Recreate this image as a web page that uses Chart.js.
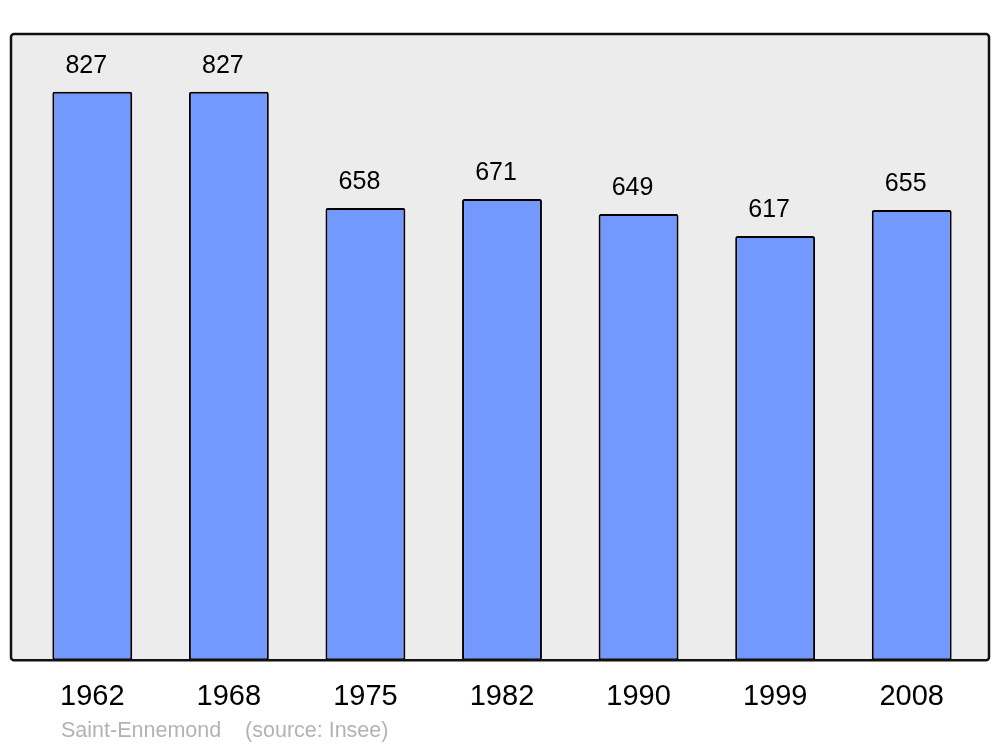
<!DOCTYPE html>
<html lang="fr">
<head>
  <meta charset="UTF-8">
  <title>Saint-Ennemond population</title>
  <script src="https://cdn.jsdelivr.net/npm/chart.js"></script>
  <style>
    html, body {
      margin: 0;
      padding: 0;
      background: #fff;
    }
    canvas {
      display: block;
    }
  </style>
</head>
<body>
  <canvas id="popChart" width="1000" height="747"></canvas>
  <script>
    // Data
    const years = ['1962', '1968', '1975', '1982', '1990', '1999', '2008'];
    const population = [827, 827, 658, 671, 649, 617, 655];
    const sourceText = 'Saint-Ennemond    (source: Insee)';

    const FONT = '"Liberation Sans", Arial, sans-serif';

    // Grey framed background behind the bars
    const framePlugin = {
      id: 'frame',
      beforeDatasetsDraw(chart) {
        const { ctx, chartArea } = chart;
        ctx.save();
        ctx.beginPath();
        ctx.roundRect(chartArea.left - 13, chartArea.top, chartArea.width + 22, chartArea.height, 3);
        ctx.fillStyle = '#ececec';
        ctx.fill();
        ctx.restore();
      },
      afterDatasetsDraw(chart) {
        const { ctx, chartArea } = chart;
        ctx.save();
        ctx.beginPath();
        ctx.roundRect(chartArea.left - 13, chartArea.top, chartArea.width + 22, chartArea.height, 3);
        ctx.lineWidth = 2.5;
        ctx.strokeStyle = '#111';
        ctx.stroke();

        // value labels above bars
        const meta = chart.getDatasetMeta(0);
        ctx.font = '25px ' + FONT;
        ctx.fillStyle = '#000';
        ctx.textAlign = 'center';
        ctx.textBaseline = 'alphabetic';
        meta.data.forEach((bar, i) => {
          ctx.fillText(String(population[i]), bar.x - 6, bar.y - 19);
        });

        // source line
        ctx.font = '21.5px ' + FONT;
        ctx.fillStyle = '#b3b3b3';
        ctx.textAlign = 'left';
        ctx.fillText(sourceText, chartArea.left + 37, 737);
        ctx.restore();
      }
    };

    new Chart(document.getElementById('popChart'), {
      type: 'bar',
      data: {
        labels: years,
        datasets: [{
          data: population,
          backgroundColor: '#7399ff',
          borderColor: '#000',
          borderWidth: 2,
          borderRadius: 2,
          borderSkipped: false,
          barPercentage: 0.585,
          categoryPercentage: 1
        }]
      },
      options: {
        responsive: false,
        animation: false,
        devicePixelRatio: 1,
        layout: {
          padding: { left: 24, right: 20, top: 34, bottom: 22 }
        },
        plugins: {
          legend: { display: false },
          tooltip: { enabled: false }
        },
        scales: {
          x: {
            grid: { display: false },
            border: { display: false },
            ticks: {
              color: '#000',
              padding: 11,
              font: { family: FONT, size: 29 }
            }
          },
          y: {
            display: false,
            min: 0,
            max: 911
          }
        }
      },
      plugins: [framePlugin]
    });
  </script>
</body>
</html>
